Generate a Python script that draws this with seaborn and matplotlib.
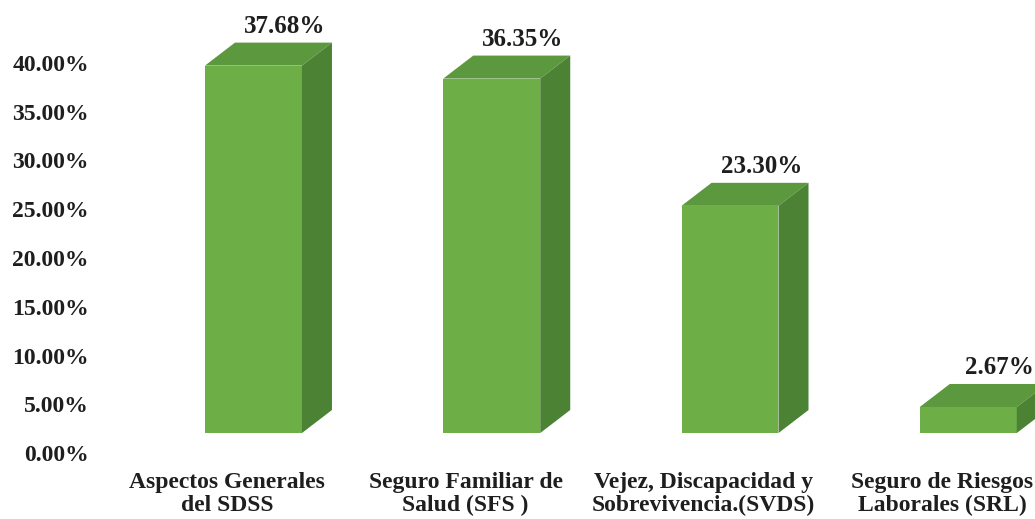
import matplotlib
matplotlib.use("Agg")
import matplotlib.pyplot as plt
from matplotlib.patches import Polygon
import seaborn as sns
import pandas as pd
import numpy as np

categories = ["Aspectos Generales\ndel SDSS", "Seguro Familiar de\nSalud (SFS )",
              "Vejez, Discapacidad y\nSobrevivencia.(SVDS)", "Seguro de Riesgos\nLaborales (SRL)"]
values = [37.68, 36.35, 23.30, 2.67]
value_labels = ["37.68%", "36.35%", "23.30%", "2.67%"]
ytick_values = [0, 5, 10, 15, 20, 25, 30, 35, 40]

front = "#6DAE47"
top = "#5C983D"
side = "#4C8234"
text_color = "#1E1E1E"

sns.set_theme(style="white")
plt.rcParams["font.family"] = ["Liberation Serif", "DejaVu Serif"]
plt.rcParams["font.weight"] = "bold"

df = pd.DataFrame({"cat": categories, "val": values})

fig = plt.figure(figsize=(10.35, 5.19), dpi=100)
ax = fig.add_axes([100 / 1035, 54 / 519, 935 / 1035, 465 / 519])

sns.barplot(data=df, x="cat", y="val", color=front, width=0.407,
            saturation=1, ax=ax, zorder=3)

# fake 3D: floor lift, depth offsets (data units)
floor = 2.05
dx, dy = 0.126, 2.36
for p, lab in zip(ax.patches, value_labels):
    p.set_y(floor)
    p.set_edgecolor("none")
    x0 = p.get_x() + 0.01
    p.set_x(x0)
    w = p.get_width()
    y1 = floor + p.get_height()
    ax.add_patch(Polygon([(x0, y1), (x0 + w, y1), (x0 + w + dx, y1 + dy), (x0 + dx, y1 + dy)],
                         closed=True, facecolor=top, edgecolor="none", zorder=3))
    ax.add_patch(Polygon([(x0 + w, floor), (x0 + w + dx, floor + dy), (x0 + w + dx, y1 + dy), (x0 + w, y1)],
                         closed=True, facecolor=side, edgecolor="none", zorder=3))
    ax.text(x0 + w / 2 + dx + 0.005, y1 + dy + 0.5, lab, ha="center", va="bottom",
            fontsize=18, fontweight="bold", color=text_color)

ax.set_xlim(-0.634, 3.29)
ax.set_ylim(-1.23, 46.46)
ax.set_yticks(ytick_values, [f"{v:.2f}%" for v in ytick_values])
ax.set_xticks(np.arange(len(categories)) - 0.1, categories)
ax.tick_params(axis="y", length=0, pad=8, labelsize=17, labelcolor=text_color)
ax.tick_params(axis="x", length=0, pad=5, labelsize=17, labelcolor=text_color)
for t in ax.get_xticklabels() + ax.get_yticklabels():
    t.set_fontweight("bold")
for t in ax.get_xticklabels():
    t.set_linespacing(1.15)
ax.set_xlabel("")
ax.set_ylabel("")
sns.despine(ax=ax, left=True, bottom=True)

fig.savefig("out.png", dpi=100)
